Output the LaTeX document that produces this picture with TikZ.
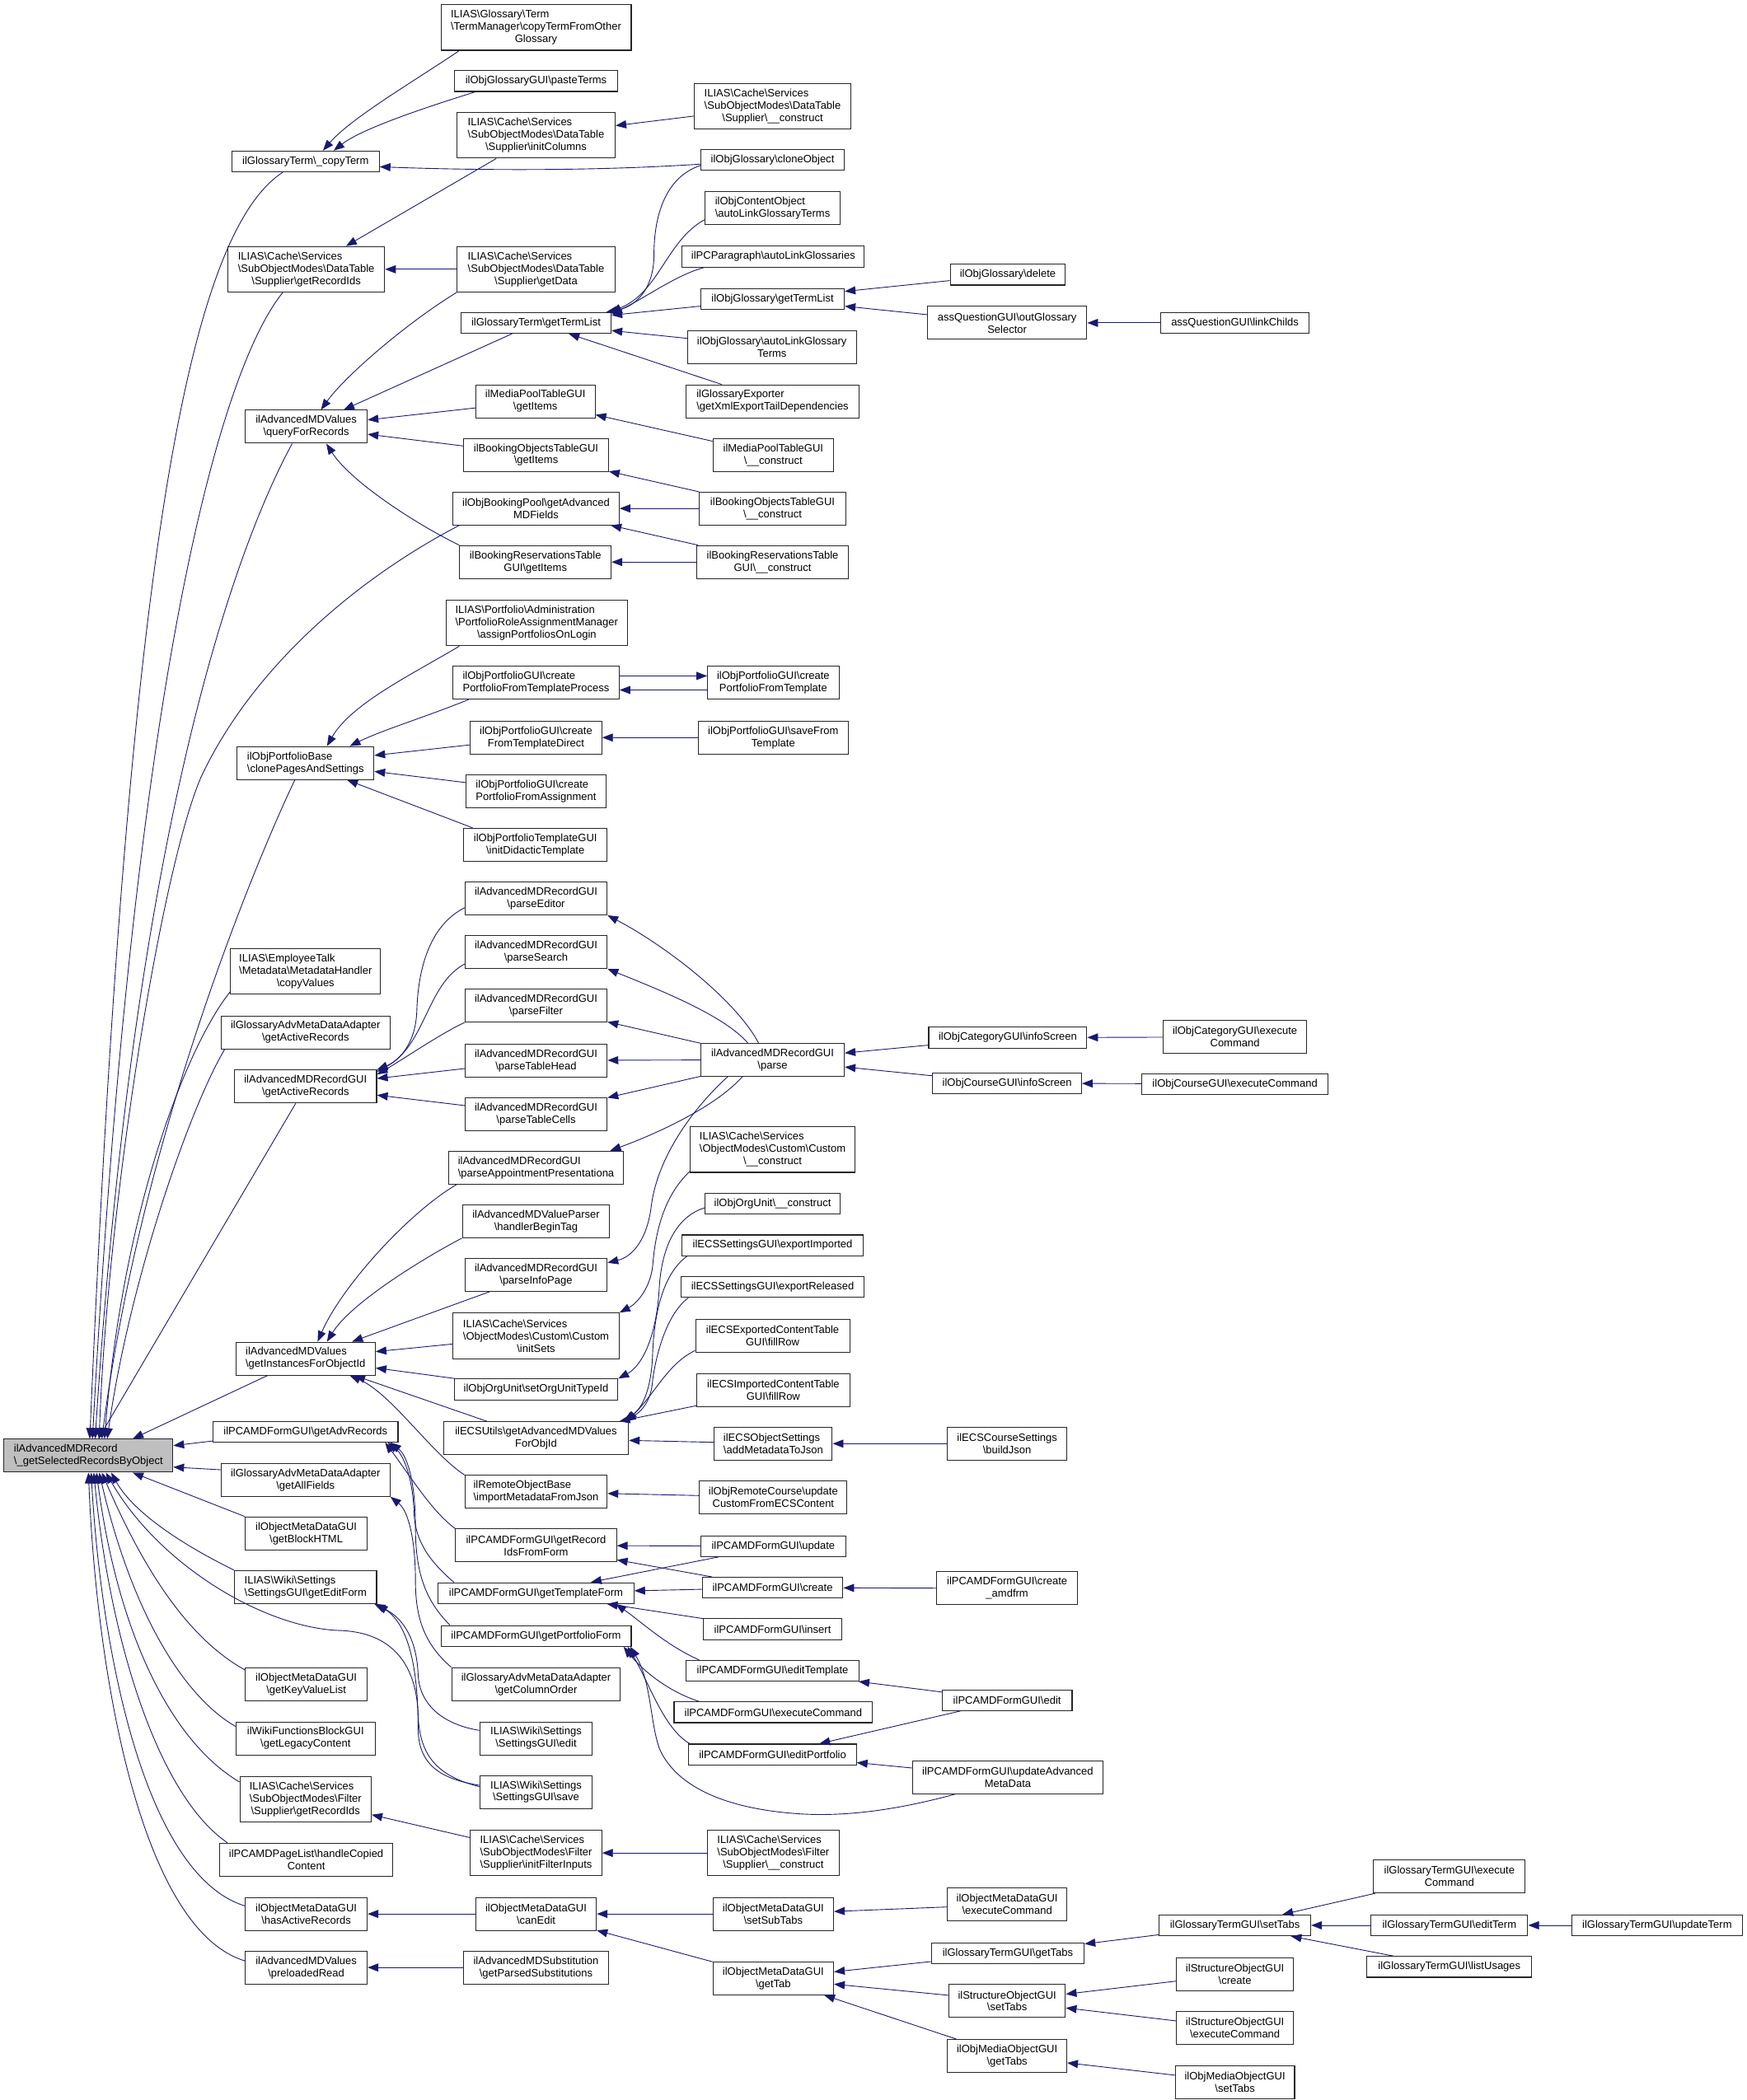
\documentclass[tikz,border=0pt]{standalone}
\usepackage{fontspec}
\setmainfont{Liberation Sans}
\usetikzlibrary{arrows.meta,calc}
\definecolor{eb}{HTML}{191970}
\definecolor{rootfill}{HTML}{BFBFBF}
\newcommand\BS{\textbackslash}
\newcommand\LL[2]{\vbox{\halign{##\cr#1\hfil\cr\hfil#2\hfil\cr}}}
\newcommand\LLL[3]{\vbox{\halign{##\cr#1\hfil\cr#2\hfil\cr\hfil#3\hfil\cr}}}
\begin{document}
\begin{tikzpicture}[x=1pt,y=-1pt,
  fn/.style={draw=black!85, line width=0.65pt, fill=white, inner sep=0pt, font=\fontsize{8}{9.2}\selectfont},
  ed/.style={draw=eb, line width=0.55pt, -{Triangle[length=8pt,width=6pt]}, fill=none},
  h1/.style={minimum height=15.5},
  h2/.style={minimum height=24.6},
  h3/.style={minimum height=34}]
\fill[white] (0,0) rectangle (1303,1567.4);
\useasboundingbox (0,0) rectangle (1303,1567.4);

% ---------------- root
\node[fn,h2,minimum width=126,fill=rootfill] (root) at (66,1086.5) {\LL{ilAdvancedMDRecord}{\BS\_getSelectedRecordsByObject}};

% ---------------- column 1
\node[fn,h1,minimum width=110] (copyTerm) at (228,120.5) {ilGlossaryTerm\BS\_copyTerm};
\node[fn,h3,minimum width=117] (dtGetRecordIds) at (228.5,201) {\LLL{ILIAS\BS Cache\BS Services}{\BS SubObjectModes\BS DataTable}{\BS Supplier\BS getRecordIds}};
\node[fn,h2,minimum width=91] (queryForRecords) at (228.5,318.5) {\LL{ilAdvancedMDValues}{\BS queryForRecords}};
\node[fn,h2,minimum width=102] (clonePages) at (228,569.5) {\LL{ilObjPortfolioBase}{\BS clonePagesAndSettings}};
\node[fn,h3,minimum width=112] (copyValues) at (228,725) {\LLL{ILIAS\BS EmployeeTalk}{\BS Metadata\BS MetadataHandler}{\BS copyValues}};
\node[fn,h2,minimum width=126] (glossActive) at (228,770.5) {\LL{ilGlossaryAdvMetaDataAdapter}{\BS getActiveRecords}};
\node[fn,h2,minimum width=106] (recActive) at (228,811) {\LL{ilAdvancedMDRecordGUI}{\BS getActiveRecords}};
\node[fn,h2,minimum width=104] (getInstances) at (228,1014) {\LL{ilAdvancedMDValues}{\BS getInstancesForObjectId}};
\node[fn,h1,minimum width=138] (getAdvRecords) at (228,1068.5) {ilPCAMDFormGUI\BS getAdvRecords};
\node[fn,h2,minimum width=126] (getAllFields) at (228,1104.5) {\LL{ilGlossaryAdvMetaDataAdapter}{\BS getAllFields}};
\node[fn,h2,minimum width=91] (getBlockHTML) at (228.5,1144.5) {\LL{ilObjectMetaDataGUI}{\BS getBlockHTML}};
\node[fn,h2,minimum width=106] (getEditForm) at (228,1184.5) {\LL{ILIAS\BS Wiki\BS Settings}{\BS SettingsGUI\BS getEditForm}};
\node[fn,h2,minimum width=91] (getKeyValueList) at (228.5,1257) {\LL{ilObjectMetaDataGUI}{\BS getKeyValueList}};
\node[fn,h2,minimum width=104] (getLegacyContent) at (228,1297.5) {\LL{ilWikiFunctionsBlockGUI}{\BS getLegacyContent}};
\node[fn,h3,minimum width=98] (filterGetRecordIds) at (228,1343) {\LLL{ILIAS\BS Cache\BS Services}{\BS SubObjectModes\BS Filter}{\BS Supplier\BS getRecordIds}};
\node[fn,h2,minimum width=129] (handleCopied) at (228.5,1388) {\LL{ilPCAMDPageList\BS handleCopied}{Content}};
\node[fn,h2,minimum width=91] (hasActive) at (228.5,1428.5) {\LL{ilObjectMetaDataGUI}{\BS hasActiveRecords}};
\node[fn,h2,minimum width=91] (preloadedRead) at (228.5,1468.5) {\LL{ilAdvancedMDValues}{\BS preloadedRead}};

% ---------------- column 2
\node[fn,h3,minimum width=142] (termManager) at (400,20.5) {\LLL{ILIAS\BS Glossary\BS Term}{\BS TermManager\BS copyTermFromOther}{Glossary}};
\node[fn,h1,minimum width=122] (pasteTerms) at (400,60.5) {ilObjGlossaryGUI\BS pasteTerms};
\node[fn,h3,minimum width=118] (initColumns) at (400,101) {\LLL{ILIAS\BS Cache\BS Services}{\BS SubObjectModes\BS DataTable}{\BS Supplier\BS initColumns}};
\node[fn,h3,minimum width=118] (getData) at (400,201) {\LLL{ILIAS\BS Cache\BS Services}{\BS SubObjectModes\BS DataTable}{\BS Supplier\BS getData}};
\node[fn,h1,minimum width=112] (getTermList) at (400,241) {ilGlossaryTerm\BS getTermList};
\node[fn,h2,minimum width=89] (mpGetItems) at (399.5,299.5) {\LL{ilMediaPoolTableGUI}{\BS getItems}};
\node[fn,h2,minimum width=108] (boGetItems) at (400,339.5) {\LL{ilBookingObjectsTableGUI}{\BS getItems}};
\node[fn,h2,minimum width=124] (getAdvMDFields) at (400,379.5) {\LL{ilObjBookingPool\BS getAdvanced}{MDFields}};
\node[fn,h2,minimum width=113] (brGetItems) at (399.5,419.5) {\LL{ilBookingReservationsTable}{GUI\BS getItems}};
\node[fn,h3,minimum width=135] (assignPortfolios) at (400.5,465) {\LLL{ILIAS\BS Portfolio\BS Administration}{\BS PortfolioRoleAssignmentManager}{\BS assignPortfoliosOnLogin}};
\node[fn,h2,minimum width=124] (cpftProcess) at (400,509.5) {\LL{ilObjPortfolioGUI\BS create}{PortfolioFromTemplateProcess}};
\node[fn,h2,minimum width=98] (cftDirect) at (400,550.5) {\LL{ilObjPortfolioGUI\BS create}{FromTemplateDirect}};
\node[fn,h2,minimum width=104] (cpfAssignment) at (400,590.5) {\LL{ilObjPortfolioGUI\BS create}{PortfolioFromAssignment}};
\node[fn,h2,minimum width=107] (initDidactic) at (399.5,630.5) {\LL{ilObjPortfolioTemplateGUI}{\BS initDidacticTemplate}};
\node[fn,h2,minimum width=106] (parseEditor) at (400,670.5) {\LL{ilAdvancedMDRecordGUI}{\BS parseEditor}};
\node[fn,h2,minimum width=106] (parseSearch) at (400,710.5) {\LL{ilAdvancedMDRecordGUI}{\BS parseSearch}};
\node[fn,h2,minimum width=106] (parseFilter) at (400,750.5) {\LL{ilAdvancedMDRecordGUI}{\BS parseFilter}};
\node[fn,h2,minimum width=106] (parseTableHead) at (400,791.5) {\LL{ilAdvancedMDRecordGUI}{\BS parseTableHead}};
\node[fn,h2,minimum width=106] (parseTableCells) at (400,831.5) {\LL{ilAdvancedMDRecordGUI}{\BS parseTableCells}};
\node[fn,h2,minimum width=130] (parseAppointment) at (400,871.5) {\LL{ilAdvancedMDRecordGUI}{\BS parseAppointmentPresentationa}};
\node[fn,h2,minimum width=110] (handlerBeginTag) at (400,911.5) {\LL{ilAdvancedMDValueParser}{\BS handlerBeginTag}};
\node[fn,h2,minimum width=106] (parseInfoPage) at (400,951.5) {\LL{ilAdvancedMDRecordGUI}{\BS parseInfoPage}};
\node[fn,h3,minimum width=124] (initSets) at (400,997) {\LLL{ILIAS\BS Cache\BS Services}{\BS ObjectModes\BS Custom\BS Custom}{\BS initSets}};
\node[fn,h1,minimum width=122] (setOrgUnitTypeId) at (400,1037) {ilObjOrgUnit\BS setOrgUnitTypeId};
\node[fn,h2,minimum width=138] (ecsUtils) at (400,1073.5) {\LL{ilECSUtils\BS getAdvancedMDValues}{ForObjId}};
\node[fn,h2,minimum width=106] (importMetadata) at (400,1113.5) {\LL{ilRemoteObjectBase}{\BS importMetadataFromJson}};
\node[fn,h2,minimum width=120] (getRecordIdsFromForm) at (400,1153.5) {\LL{ilPCAMDFormGUI\BS getRecord}{IdsFromForm}};
\node[fn,h1,minimum width=146] (getTemplateForm) at (400,1189) {ilPCAMDFormGUI\BS getTemplateForm};
\node[fn,h1,minimum width=142] (getPortfolioForm) at (400,1221) {ilPCAMDFormGUI\BS getPortfolioForm};
\node[fn,h2,minimum width=126] (getColumnOrder) at (400,1257) {\LL{ilGlossaryAdvMetaDataAdapter}{\BS getColumnOrder}};
\node[fn,h2,minimum width=84] (sgEdit) at (400,1297.5) {\LL{ILIAS\BS Wiki\BS Settings}{\BS SettingsGUI\BS edit}};
\node[fn,h2,minimum width=84] (sgSave) at (400,1337.5) {\LL{ILIAS\BS Wiki\BS Settings}{\BS SettingsGUI\BS save}};
\node[fn,h3,minimum width=98] (initFilterInputs) at (400,1383) {\LLL{ILIAS\BS Cache\BS Services}{\BS SubObjectModes\BS Filter}{\BS Supplier\BS initFilterInputs}};
\node[fn,h2,minimum width=90] (canEdit) at (400,1428.5) {\LL{ilObjectMetaDataGUI}{\BS canEdit}};
\node[fn,h2,minimum width=108] (getParsedSubst) at (400,1468.5) {\LL{ilAdvancedMDSubstitution}{\BS getParsedSubstitutions}};

% ---------------- column 3
\node[fn,h3,minimum width=117] (dtConstruct) at (576.5,79.5) {\LLL{ILIAS\BS Cache\BS Services}{\BS SubObjectModes\BS DataTable}{\BS Supplier\BS\_\_construct}};
\node[fn,h1,minimum width=107] (cloneObject) at (576.5,119.5) {ilObjGlossary\BS cloneObject};
\node[fn,h2,minimum width=101] (coAutoLink) at (576.5,155.5) {\LL{ilObjContentObject}{\BS autoLinkGlossaryTerms}};
\node[fn,h1,minimum width=136] (pcAutoLink) at (577,191.5) {ilPCParagraph\BS autoLinkGlossaries};
\node[fn,h1,minimum width=107] (ogGetTermList) at (576.5,223) {ilObjGlossary\BS getTermList};
\node[fn,h2,minimum width=126] (ogAutoLink) at (576,259) {\LL{ilObjGlossary\BS autoLinkGlossary}{Terms}};
\node[fn,h2,minimum width=129] (glossExporter) at (576.5,299.5) {\LL{ilGlossaryExporter}{\BS getXmlExportTailDependencies}};
\node[fn,h2,minimum width=90] (mpConstruct) at (577,339.5) {\LL{ilMediaPoolTableGUI}{\BS\_\_construct}};
\node[fn,h2,minimum width=109] (boConstruct) at (576.5,379.5) {\LL{ilBookingObjectsTableGUI}{\BS\_\_construct}};
\node[fn,h2,minimum width=113] (brConstruct) at (576.5,419.5) {\LL{ilBookingReservationsTable}{GUI\BS\_\_construct}};
\node[fn,h2,minimum width=98] (cpfTemplate) at (577,509.5) {\LL{ilObjPortfolioGUI\BS create}{PortfolioFromTemplate}};
\node[fn,h2,minimum width=112] (saveFromTemplate) at (577,550.5) {\LL{ilObjPortfolioGUI\BS saveFrom}{Template}};
\node[fn,h2,minimum width=107] (parse) at (576.5,791) {\LL{ilAdvancedMDRecordGUI}{\BS parse}};
\node[fn,h3,minimum width=123] (customConstruct) at (576.5,858) {\LLL{ILIAS\BS Cache\BS Services}{\BS ObjectModes\BS Custom\BS Custom}{\BS\_\_construct}};
\node[fn,h1,minimum width=101] (orgUnitConstruct) at (576.5,898.5) {ilObjOrgUnit\BS\_\_construct};
\node[fn,h1,minimum width=135] (exportImported) at (576.5,929.5) {ilECSSettingsGUI\BS exportImported};
\node[fn,h1,minimum width=137] (exportReleased) at (576.5,960.5) {ilECSSettingsGUI\BS exportReleased};
\node[fn,h2,minimum width=115] (exportedFillRow) at (576.5,997) {\LL{ilECSExportedContentTable}{GUI\BS fillRow}};
\node[fn,h2,minimum width=114] (importedFillRow) at (577,1037.5) {\LL{ilECSImportedContentTable}{GUI\BS fillRow}};
\node[fn,h2,minimum width=88] (addMetadataToJson) at (577,1077.5) {\LL{ilECSObjectSettings}{\BS addMetadataToJson}};
\node[fn,h2,minimum width=110] (updateCustom) at (577,1117.5) {\LL{ilObjRemoteCourse\BS update}{CustomFromECSContent}};
\node[fn,h1,minimum width=108] (pcUpdate) at (577,1154) {ilPCAMDFormGUI\BS update};
\node[fn,h1,minimum width=105] (pcCreate) at (576.5,1185) {ilPCAMDFormGUI\BS create};
\node[fn,h1,minimum width=103] (pcInsert) at (576.5,1216) {ilPCAMDFormGUI\BS insert};
\node[fn,h1,minimum width=129] (pcEditTemplate) at (576.5,1247) {ilPCAMDFormGUI\BS editTemplate};
\node[fn,h1,minimum width=148] (pcExecute) at (577,1278) {ilPCAMDFormGUI\BS executeCommand};
\node[fn,h1,minimum width=125] (pcEditPortfolio) at (576.5,1309.5) {ilPCAMDFormGUI\BS editPortfolio};
\node[fn,h3,minimum width=98] (filterConstruct) at (577,1383) {\LLL{ILIAS\BS Cache\BS Services}{\BS SubObjectModes\BS Filter}{\BS Supplier\BS\_\_construct}};
\node[fn,h2,minimum width=90] (setSubTabs) at (577,1428.5) {\LL{ilObjectMetaDataGUI}{\BS setSubTabs}};
\node[fn,h2,minimum width=90] (getTab) at (577,1476.5) {\LL{ilObjectMetaDataGUI}{\BS getTab}};

% ---------------- column 4
\node[fn,h1,minimum width=86] (ogDelete) at (752,205) {ilObjGlossary\BS delete};
\node[fn,h2,minimum width=119] (outGlossarySelector) at (751.5,241) {\LL{assQuestionGUI\BS outGlossary}{Selector}};
\node[fn,h1,minimum width=118] (catInfoScreen) at (752,774.5) {ilObjCategoryGUI\BS infoScreen};
\node[fn,h1,minimum width=111] (courseInfoScreen) at (751.5,808.5) {ilObjCourseGUI\BS infoScreen};
\node[fn,h2,minimum width=89] (buildJson) at (751.5,1077.5) {\LL{ilECSCourseSettings}{\BS buildJson}};
\node[fn,h2,minimum width=105] (createAmdfrm) at (751.5,1185.5) {\LL{ilPCAMDFormGUI\BS create}{\_amdfrm}};
\node[fn,h1,minimum width=97] (pcEdit) at (751.5,1269) {ilPCAMDFormGUI\BS edit};
\node[fn,h2,minimum width=142] (updateAdvMeta) at (752,1326.5) {\LL{ilPCAMDFormGUI\BS updateAdvanced}{MetaData}};
\node[fn,h2,minimum width=89] (omdExecute) at (751.5,1421.5) {\LL{ilObjectMetaDataGUI}{\BS executeCommand}};
\node[fn,h1,minimum width=114] (gtGetTabs) at (752,1458) {ilGlossaryTermGUI\BS getTabs};
\node[fn,h2,minimum width=87] (soSetTabs) at (751.5,1493.5) {\LL{ilStructureObjectGUI}{\BS setTabs}};
\node[fn,h2,minimum width=89] (omoGetTabs) at (751.5,1534.5) {\LL{ilObjMediaObjectGUI}{\BS getTabs}};

% ---------------- column 5
\node[fn,h1,minimum width=111] (linkChilds) at (921.5,241) {assQuestionGUI\BS linkChilds};
\node[fn,h2,minimum width=107] (catExecute) at (921.5,774) {\LL{ilObjCategoryGUI\BS execute}{Command}};
\node[fn,h1,minimum width=139] (courseExecute) at (921.5,809) {ilObjCourseGUI\BS executeCommand};
\node[fn,h1,minimum width=113] (gtSetTabs) at (921.5,1437) {ilGlossaryTermGUI\BS setTabs};
\node[fn,h2,minimum width=87] (soCreate) at (921.5,1473.5) {\LL{ilStructureObjectGUI}{\BS create}};
\node[fn,h2,minimum width=87] (soExecute) at (921.5,1513.5) {\LL{ilStructureObjectGUI}{\BS executeCommand}};
\node[fn,h2,minimum width=89] (omoSetTabs) at (921.5,1554) {\LL{ilObjMediaObjectGUI}{\BS setTabs}};

% ---------------- columns 6, 7
\node[fn,h2,minimum width=113] (gtExecute) at (1081.5,1400.5) {\LL{ilGlossaryTermGUI\BS execute}{Command}};
\node[fn,h1,minimum width=117] (gtEditTerm) at (1081.5,1437) {ilGlossaryTermGUI\BS editTerm};
\node[fn,h1,minimum width=123] (gtListUsages) at (1081.5,1468) {ilGlossaryTermGUI\BS listUsages};
\node[fn,h1,minimum width=127] (gtUpdateTerm) at (1236.5,1437) {ilGlossaryTermGUI\BS updateTerm};

% ================= edges (caller -> callee, tip at callee)
% --- into root, from above
\draw[ed] ($(copyTerm.south)+(-17,0)$) .. controls (140,175) and (95,420) .. ($(root.north)+(1,0)$);
\draw[ed] ($(dtGetRecordIds.south)+(-17.5,0)$) .. controls (165,275) and (100,500) .. ($(root.north)+(3,0)$);
\draw[ed] ($(queryForRecords.south)+(-10.5,0)$) .. controls (175,410) and (100,620) .. ($(root.north)+(5,0)$);
\draw[ed] ($(getAdvMDFields.south west)+(5,0)$) .. controls (270,430) and (190,495) .. (150,580) .. controls (120,650) and (80,900) .. ($(root.north)+(8,0)$);
\draw[ed] ($(clonePages.south)+(-8,0)$) .. controls (190,645) and (105,850) .. ($(root.north)+(10,0)$);
\draw[ed] ($(copyValues.south west)+(0,-2)$) .. controls (140,780) and (92,900) .. ($(root.north)+(12,0)$);
\draw[ed] ($(glossActive.south west)+(3,0)$) .. controls (140,830) and (96,960) .. ($(root.north)+(14,0)$);
\draw[ed] (recActive) -- (root);
\draw[ed] ($(getInstances.south west)+(24,0)$) -- ($(root.north)+(33,0)$);
% --- into root, from the right
\draw[ed] ($(getAdvRecords.west)+(0,7)$) -- ($(root.east)+(0,-7.5)$);
\draw[ed] ($(getAllFields.west)+(0,-7.5)$) -- ($(root.east)+(0,8.5)$);
% --- into root, from below
\draw[ed] (getBlockHTML.north west) -- ($(root.south)+(33,0)$);
\draw[ed] (getEditForm.north west) .. controls (140,1155) and (100,1130) .. ($(root.south)+(17,0)$);
\draw[ed] ($(getKeyValueList.north west)+(0,2)$) .. controls (150,1228) and (115,1190) .. ($(root.south)+(10,0)$);
\draw[ed] ($(getLegacyContent.west)+(0,-9)$) .. controls (140,1268) and (100,1210) .. ($(root.south)+(8,0)$);
\draw[ed] ($(filterGetRecordIds.west)+(0,-13)$) .. controls (128,1300) and (88,1220) .. ($(root.south)+(6,0)$);
\draw[ed] ($(handleCopied.north west)+(6,0)$) .. controls (118,1340) and (82,1225) .. ($(root.south)+(4,0)$);
\draw[ed] ($(hasActive.west)+(0,-6)$) .. controls (110,1400) and (76,1240) .. ($(root.south)+(2,0)$);
\draw[ed] ($(preloadedRead.west)+(0,-5)$) .. controls (105,1440) and (72,1250) .. (root.south);
\draw[ed] ($(sgSave.west)+(0,-4)$) .. controls (328,1326) and (313,1312) .. (312,1280) .. controls (311,1245) and (295,1219) .. (255,1217) .. controls (200,1216) and (120,1170) .. ($(root.south)+(13,0)$);

% --- copyTerm
\draw[ed] ($(termManager.south west)+(14,0)$) .. controls (310,60) and (262,88) .. ($(copyTerm.north)+(13,0)$);
\draw[ed] ($(pasteTerms.south west)+(16,0)$) .. controls (318,80) and (270,96) .. ($(copyTerm.north)+(21,0)$);
\draw[ed] ($(cloneObject.west)+(0,3)$) .. controls (440,128) and (350,127) .. ($(copyTerm.east)+(0,4)$);
% --- DataTable getRecordIds
\draw[ed] (initColumns) -- (dtGetRecordIds);
\draw[ed] (getData) -- (dtGetRecordIds);
% --- queryForRecords
\draw[ed] (getTermList) -- (queryForRecords);
\draw[ed] (getData.south west) .. controls (305,240) and (258,280) .. ($(queryForRecords.north)+(11,0)$);
\draw[ed] (mpGetItems) -- (queryForRecords);
\draw[ed] (boGetItems) -- (queryForRecords);
\draw[ed] (brGetItems.north west) .. controls (312,392) and (262,360) .. ($(queryForRecords.south)+(15,0)$);
% --- clonePagesAndSettings
\draw[ed] ($(assignPortfolios.south west)+(10,0)$) .. controls (310,502) and (262,525) .. ($(clonePages.north)+(16,0)$);
\draw[ed] ($(cpftProcess.south west)+(12,0)$) .. controls (318,535) and (285,545) .. ($(clonePages.north)+(33,0)$);
\draw[ed] (cftDirect) -- (clonePages);
\draw[ed] (cpfAssignment) -- (clonePages);
\draw[ed] ($(initDidactic.north west)+(7,0)$) -- ($(clonePages.south)+(31,0)$);
% --- RecordGUI getActiveRecords
\draw[ed] ($(parseEditor.west)+(0,7)$) .. controls (322,690) and (312,720) .. (311,755) .. controls (310,780) and (297,792) .. (recActive.north east);
\draw[ed] ($(parseSearch.west)+(0,9)$) .. controls (318,735) and (318,780) .. ($(recActive.north east)+(0,1.5)$);
\draw[ed] (parseFilter.south west) .. controls (328,772) and (305,788) .. ($(recActive.east)+(0,-9)$);
\draw[ed] (parseTableHead) -- (recActive);
\draw[ed] (parseTableCells) -- (recActive);
% --- getInstancesForObjectId
\draw[ed] ($(parseAppointment.south west)+(6,0)$) .. controls (305,905) and (255,960) .. ($(getInstances.north)+(9,0)$);
\draw[ed] (handlerBeginTag.south west) .. controls (318,938) and (262,972) .. ($(getInstances.north)+(16,0)$);
\draw[ed] (parseInfoPage) -- (getInstances);
\draw[ed] (initSets) -- (getInstances);
\draw[ed] (setOrgUnitTypeId) -- (getInstances);
\draw[ed] (ecsUtils) -- (getInstances);
\draw[ed] (importMetadata.north west) .. controls (322,1085) and (292,1040) .. ($(getInstances.south)+(33,0)$);
% --- getAdvRecords
\draw[ed] (getRecordIdsFromForm.north west) .. controls (322,1128) and (305,1100) .. ($(getAdvRecords.south east)+(-10,0)$);
\draw[ed] ($(getTemplateForm.north west)+(12,0)$) .. controls (320,1165) and (310,1150) .. (309,1130) .. controls (308,1100) and (300,1085) .. ($(getAdvRecords.south east)+(-8,0)$);
\draw[ed] ($(getPortfolioForm.north west)+(7,0)$) .. controls (318,1195) and (310,1175) .. (310,1140) .. controls (310,1100) and (302,1085) .. ($(getAdvRecords.south east)+(-6,0)$);
% --- getAllFields
\draw[ed] (getColumnOrder.north west) .. controls (318,1228) and (310,1210) .. (310,1180) .. controls (310,1150) and (305,1128) .. (getAllFields.south east);
% --- getEditForm
\draw[ed] ($(sgEdit.west)+(0,-6)$) .. controls (330,1287) and (313,1272) .. (312,1250) .. controls (311,1225) and (302,1208) .. ($(getEditForm.south east)+(-2,0)$);
\draw[ed] ($(sgSave.west)+(0,-5)$) .. controls (330,1328) and (312,1318) .. (312,1290) .. controls (312,1245) and (305,1213) .. (getEditForm.south east);
% --- Filter
\draw[ed] (initFilterInputs) -- (filterGetRecordIds);
\draw[ed] (filterConstruct) -- (initFilterInputs);
% --- MetaData GUI
\draw[ed] (canEdit) -- (hasActive);
\draw[ed] (setSubTabs) -- (canEdit);
\draw[ed] (getTab) -- (canEdit);
\draw[ed] (getParsedSubst) -- (preloadedRead);
\draw[ed] (omdExecute) -- (setSubTabs);
\draw[ed] (gtGetTabs) -- (getTab);
\draw[ed] (soSetTabs) -- (getTab);
\draw[ed] (omoGetTabs) -- (getTab);
\draw[ed] (gtSetTabs) -- (gtGetTabs);
\draw[ed] (soCreate) -- (soSetTabs);
\draw[ed] (soExecute) -- (soSetTabs);
\draw[ed] (omoSetTabs) -- (omoGetTabs);
\draw[ed] (gtExecute) -- (gtSetTabs);
\draw[ed] (gtEditTerm) -- (gtSetTabs);
\draw[ed] (gtListUsages) -- (gtSetTabs);
\draw[ed] (gtUpdateTerm) -- (gtEditTerm);

% --- column 3 -> column 2
\draw[ed] (dtConstruct) -- (initColumns);
\draw[ed] ($(cloneObject.west)+(0,4)$) .. controls (497,132) and (488,160) .. (488,190) .. controls (488,215) and (475,229) .. ($(getTermList.north east)+(-4,0)$);
\draw[ed] ($(coAutoLink.west)+(0,8.5)$) .. controls (497,180) and (492,218) .. ($(getTermList.north east)+(-1,0)$);
\draw[ed] ($(pcAutoLink.south west)+(17,0)$) .. controls (505,205) and (482,222) .. ($(getTermList.north east)+(0,1.5)$);
\draw[ed] (ogGetTermList) -- (getTermList);
\draw[ed] (ogAutoLink) -- (getTermList);
\draw[ed] (glossExporter) -- (getTermList);
\draw[ed] (mpConstruct) -- (mpGetItems);
\draw[ed] (boConstruct) -- (boGetItems);
\draw[ed] (boConstruct) -- (getAdvMDFields);
\draw[ed] (brConstruct) -- (getAdvMDFields);
\draw[ed] (brConstruct) -- (brGetItems);
\draw[ed] ($(cpftProcess.east)+(0,-5)$) -- ($(cpfTemplate.west)+(0,-5)$);
\draw[ed] ($(cpfTemplate.west)+(0,5.5)$) -- ($(cpftProcess.east)+(0,5.5)$);
\draw[ed] (saveFromTemplate) -- (cftDirect);
% --- parse
\draw[ed] ($(parse.north)+(-10.5,0)$) .. controls (548,745) and (495,705) .. (parseEditor.south east);
\draw[ed] ($(parse.north)+(-18.5,0)$) .. controls (540,758) and (495,740) .. (parseSearch.south east);
\draw[ed] (parse) -- (parseFilter);
\draw[ed] (parse) -- (parseTableHead);
\draw[ed] (parse) -- (parseTableCells);
\draw[ed] ($(parse.south)+(-22.5,0)$) .. controls (532,828) and (485,848) .. ($(parseAppointment.north east)+(-10,0)$);
\draw[ed] ($(parse.south)+(-33.5,0)$) .. controls (512,832) and (490,868) .. (486,900) .. controls (483,925) and (472,938) .. ($(parseInfoPage.east)+(0,-9)$);
\draw[ed] ($(customConstruct.south west)+(0,-1)$) .. controls (495,893) and (489,920) .. (487,945) .. controls (485,962) and (475,973) .. (initSets.north east);
\draw[ed] ($(orgUnitConstruct.west)+(0,3)$) .. controls (505,908) and (494,930) .. (492,960) .. controls (490,1000) and (478,1020) .. (setOrgUnitTypeId.north east);
% --- ECS
\draw[ed] ($(exportImported.south west)+(4,0)$) .. controls (493,952) and (488,985) .. (487,1010) .. controls (486,1040) and (478,1052) .. ($(ecsUtils.north east)+(-4,0)$);
\draw[ed] ($(exportReleased.south west)+(6,0)$) .. controls (496,982) and (489,1015) .. (487,1030) .. controls (486,1048) and (476,1055) .. ($(ecsUtils.north east)+(-3,0)$);
\draw[ed] ($(exportedFillRow.west)+(0,11)$) .. controls (498,1018) and (489,1040) .. ($(ecsUtils.north east)+(-2,0)$);
\draw[ed] (importedFillRow) -- (ecsUtils);
\draw[ed] (addMetadataToJson) -- (ecsUtils);
\draw[ed] (updateCustom) -- (importMetadata);
\draw[ed] (buildJson) -- (addMetadataToJson);
% --- PCAMD form
\draw[ed] (pcUpdate) -- (getRecordIdsFromForm);
\draw[ed] (pcCreate) -- (getRecordIdsFromForm);
\draw[ed] (pcUpdate) -- (getTemplateForm);
\draw[ed] (pcCreate) -- (getTemplateForm);
\draw[ed] (pcInsert) -- (getTemplateForm);
\draw[ed] ($(pcEditTemplate.north west)+(10,0)$) .. controls (497,1228) and (478,1210) .. ($(getTemplateForm.south east)+(-14,0)$);
\draw[ed] ($(pcExecute.north west)+(19,0)$) .. controls (497,1262) and (478,1245) .. ($(getPortfolioForm.south east)+(-6,0)$);
\draw[ed] ($(pcEditPortfolio.north west)+(1,0)$) .. controls (495,1290) and (484,1255) .. ($(getPortfolioForm.south east)+(-3,0)$);
\draw[ed] ($(updateAdvMeta.south west)+(32,0)$) .. controls (680,1348) and (640,1356) .. (600,1354) .. controls (545,1351) and (505,1335) .. (492,1305) .. controls (485,1285) and (486,1255) .. ($(getPortfolioForm.south east)+(-1,0)$);
\draw[ed] (updateAdvMeta) -- (pcEditPortfolio);
\draw[ed] (pcEdit) -- (pcEditTemplate);
\draw[ed] (pcEdit) -- (pcEditPortfolio);
\draw[ed] (createAmdfrm) -- (pcCreate);
% --- top right
\draw[ed] (ogDelete) -- (ogGetTermList);
\draw[ed] (outGlossarySelector) -- (ogGetTermList);
\draw[ed] (linkChilds) -- (outGlossarySelector);
\draw[ed] (catInfoScreen) -- (parse);
\draw[ed] (courseInfoScreen) -- (parse);
\draw[ed] (catExecute) -- (catInfoScreen);
\draw[ed] (courseExecute) -- (courseInfoScreen);
\end{tikzpicture}
\end{document}
